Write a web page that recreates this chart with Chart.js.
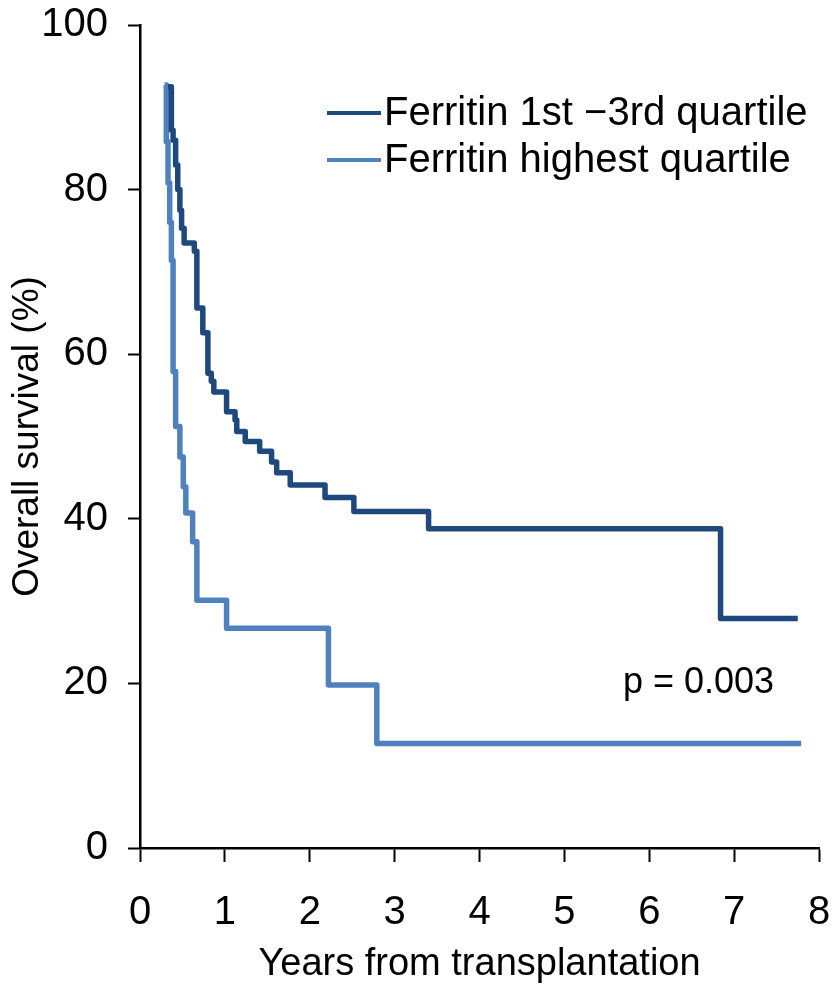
<!DOCTYPE html>
<html>
<head>
<meta charset="utf-8">
<script src="https://cdn.jsdelivr.net/npm/chart.js@4.4.1/dist/chart.umd.min.js"></script>
<style>
  html, body { margin: 0; padding: 0; background: #ffffff; }
  #wrap { width: 836px; height: 989px; }
</style>
</head>
<body>
<div id="wrap"><canvas id="survivalChart" width="836" height="989"></canvas></div>
<script>
// Kaplan-Meier steps: time of each drop (years) and % surviving after it
const lowTimes = [0.33, 0.37, 0.39, 0.42, 0.445, 0.47, 0.49, 0.52, 0.64, 0.67, 0.74, 0.80, 0.84, 0.87,
  1.02, 1.12, 1.14, 1.24, 1.41, 1.55, 1.61, 1.77, 2.18, 2.52, 3.40, 6.84, 7.75];
const lowSurvival = [92.5, 87.2, 86.0, 83.0, 80.0, 77.5, 75.3, 73.5, 72.5, 65.6, 62.6, 57.7, 56.7, 55.4,
  53.0, 52.0, 50.6, 49.4, 48.2, 46.9, 45.6, 44.1, 42.6, 40.9, 38.8, 27.9, 27.9];

const highTimes = [0.29, 0.31, 0.33, 0.35, 0.37, 0.39, 0.42, 0.47, 0.51, 0.54, 0.62, 0.67, 1.02, 2.22, 2.79, 7.79];
const highSurvival = [92.7, 85.8, 80.8, 76.0, 71.4, 57.9, 51.2, 47.5, 43.9, 40.7, 37.2, 30.1, 26.7, 19.8, 12.7, 12.7];

const seriesLabels = ['Ferritin 1st \u22123rd quartile', 'Ferritin highest quartile'];
const seriesColors = ['#1F497D', '#4F81BD'];

const xTickValues = [0, 1, 2, 3, 4, 5, 6, 7, 8];
const yTickValues = [0, 20, 40, 60, 80, 100];

const pValueText = 'p = 0.003';

const fontFamily = '"Liberation Sans", Arial, sans-serif';

function toPoints(times, values) {
  return times.map((t, i) => ({ x: t, y: values[i] }));
}

// legend inside the plot and the p value
const overlayText = {
  id: 'overlayText',
  afterDatasetsDraw(chart) {
    const ctx = chart.ctx;
    ctx.save();
    ctx.font = '40px ' + fontFamily;
    ctx.textBaseline = 'middle';
    ctx.textAlign = 'left';
    chart.data.datasets.forEach((ds, i) => {
      const y = 113 + i * 47;
      ctx.strokeStyle = ds.borderColor;
      ctx.lineWidth = 4;
      ctx.beginPath();
      ctx.moveTo(327, y);
      ctx.lineTo(381, y);
      ctx.stroke();
      ctx.fillStyle = '#000';
      ctx.fillText(ds.label, 384, y + 1);
    });

    ctx.font = '36px ' + fontFamily;
    ctx.textAlign = 'right';
    ctx.fillText(pValueText, chart.scales.x.getPixelForValue(7.47), chart.scales.y.getPixelForValue(20));
    ctx.restore();
  }
};

const ctx = document.getElementById('survivalChart').getContext('2d');
new Chart(ctx, {
  type: 'line',
  data: {
    datasets: [
      {
        label: seriesLabels[0],
        data: toPoints(lowTimes, lowSurvival),
        borderColor: seriesColors[0],
        borderWidth: 5.5,
        borderJoinStyle: 'round',
        pointRadius: 0,
        stepped: 'before',
        fill: false
      },
      {
        label: seriesLabels[1],
        data: toPoints(highTimes, highSurvival),
        borderColor: seriesColors[1],
        borderWidth: 5.5,
        borderJoinStyle: 'round',
        pointRadius: 0,
        stepped: 'before',
        fill: false
      }
    ]
  },
  options: {
    responsive: false,
    animation: false,
    layout: { padding: { top: 25, right: 17, bottom: 0, left: 0 } },
    scales: {
      x: {
        type: 'linear',
        min: 0,
        max: 8,
        afterBuildTicks: scale => { scale.ticks = xTickValues.map(v => ({ value: v })); },
        afterFit: scale => {
          scale.height = 141;
          scale.paddingLeft = 0;
          scale.paddingRight = 0;
        },
        ticks: {
          color: '#000',
          padding: 27,
          font: { family: fontFamily, size: 40 }
        },
        grid: {
          drawOnChartArea: false,
          drawTicks: true,
          tickLength: 14,
          tickWidth: 2,
          tickColor: '#000'
        },
        border: { color: '#000', width: 2.5 },
        title: {
          display: true,
          text: 'Years from transplantation',
          color: '#000',
          font: { family: fontFamily, size: 38 },
          padding: { top: 0, bottom: 2 }
        }
      },
      y: {
        min: 0,
        max: 100,
        afterBuildTicks: scale => { scale.ticks = yTickValues.map(v => ({ value: v })); },
        afterFit: scale => {
          scale.width = 140;
          scale.paddingTop = 0;
          scale.paddingBottom = 0;
        },
        ticks: {
          color: '#000',
          padding: 20,
          font: { family: fontFamily, size: 40 }
        },
        grid: {
          drawOnChartArea: false,
          drawTicks: true,
          tickLength: 12,
          tickWidth: 2,
          tickColor: '#000'
        },
        border: { color: '#000', width: 2.5 },
        title: {
          display: true,
          text: 'Overall survival (%)',
          color: '#000',
          font: { family: fontFamily, size: 37 },
          padding: { top: 6, bottom: 0 }
        }
      }
    },
    plugins: {
      legend: { display: false },
      tooltip: { enabled: false }
    }
  },
  plugins: [overlayText]
});
</script>
</body>
</html>
